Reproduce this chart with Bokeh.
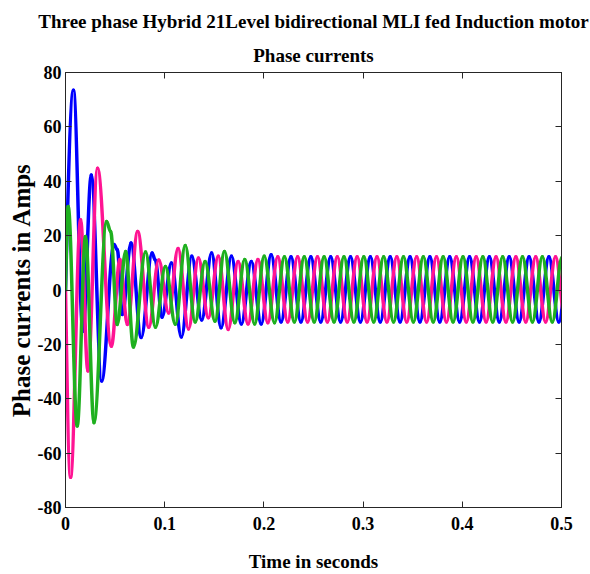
import numpy as np
from bokeh.plotting import figure
from bokeh.models import (Range1d, LinearAxis, FixedTicker, Title,
                          CustomJSTickFormatter, ColumnDataSource)
from bokeh.embed import file_html
from bokeh.resources import INLINE

# ---------------- data (extrema of each phase current) -------------
x_ticks = [0.0, 0.1, 0.2, 0.3, 0.4, 0.5]
y_ticks = [-80, -60, -40, -20, 0, 20, 40, 60, 80]

blue_t = [0.0, 0.0080, 0.0176, 0.0260, 0.0364, 0.0489, 0.0522, 0.0573, 0.0660, 0.0763,
          0.0873, 0.0905, 0.0973, 0.1068, 0.1168, 0.1273, 0.1373, 0.1473, 0.1568, 0.1673,
          0.1773, 0.1873, 0.1973, 0.2073,
          0.2173, 0.2273, 0.2373, 0.2473, 0.2573, 0.2673, 0.2773, 0.2873, 0.2973, 0.3073,
          0.3173, 0.3273, 0.3373, 0.3473, 0.3573, 0.3673, 0.3773, 0.3873, 0.3973, 0.4073,
          0.4173, 0.4273, 0.4373, 0.4473, 0.4573, 0.4673, 0.4773, 0.4873, 0.4973, 0.5073]
blue_v = [0.0, 73.5, -15.2, 42.3, -33.5, 16.7, 14.8, -9.0, 17.3, -17.5,
          13.6, 11.0, -10.0, 9.9, -17.3, 12.4, -11.0, 13.6, -13.9, 12.4,
          -12.5, 10.5, -12.5, 13.0,
          -11.8, 12.2, -11.8, 12.2, -11.8, 12.2, -11.8, 12.2, -11.8, 12.2,
          -11.8, 12.2, -11.8, 12.2, -11.8, 12.2, -11.8, 12.2, -11.8, 12.2,
          -11.8, 12.2, -11.8, 12.2, -11.8, 12.2, -11.8, 12.2, -11.8, 12.2]

pink_t = [0.0, 0.0051, 0.0152, 0.0226, 0.0323, 0.0462, 0.0549, 0.0623, 0.0728, 0.0840,
          0.0940, 0.1040, 0.1135, 0.1240, 0.1340, 0.1440, 0.1540, 0.1640, 0.1740, 0.1840,
          0.1940, 0.2040,
          0.2140, 0.2240, 0.2340, 0.2440, 0.2540, 0.2640, 0.2740, 0.2840, 0.2940, 0.3040,
          0.3140, 0.3240, 0.3340, 0.3440, 0.3540, 0.3640, 0.3740, 0.3840, 0.3940, 0.4040,
          0.4140, 0.4240, 0.4340, 0.4440, 0.4540, 0.4640, 0.4740, 0.4840, 0.4940, 0.5040]
pink_v = [0.0, -68.9, 25.8, -29.8, 44.8, -20.7, 11.2, -12.7, 21.5, -13.7,
          11.0, -8.5, 15.3, -14.3, 11.8, -10.2, 12.4, -14.5, 10.5, -12.5,
          11.2, -12.0,
          12.2, -11.8, 12.2, -11.8, 12.2, -11.8, 12.2, -11.8, 12.2, -11.8,
          12.2, -11.8, 12.2, -11.8, 12.2, -11.8, 12.2, -11.8, 12.2, -11.8,
          12.2, -11.8, 12.2, -11.8, 12.2, -11.8, 12.2, -11.8, 12.2, -11.8]

green_t = [0.0, 0.0027, 0.0118, 0.0202, 0.0287, 0.0414, 0.0455, 0.0522, 0.0606, 0.0685,
           0.0807, 0.0907, 0.1007, 0.1107, 0.1207, 0.1307, 0.1407, 0.1507, 0.1602, 0.1707,
           0.1807, 0.1907, 0.2003, 0.2107,
           0.2207, 0.2307, 0.2407, 0.2507, 0.2607, 0.2707, 0.2807, 0.2907, 0.3007, 0.3107,
           0.3207, 0.3307, 0.3407, 0.3507, 0.3607, 0.3707, 0.3807, 0.3907, 0.4007, 0.4107,
           0.4207, 0.4307, 0.4407, 0.4507, 0.4607, 0.4707, 0.4807, 0.4907, 0.5007]
green_v = [0.0, 30.7, -50.0, 19.7, -48.8, 25.2, 21.5, -12.7, 14.2, -21.0,
           14.0, -13.7, 8.6, -12.6, 16.4, -11.8, 10.5, -11.5, 14.2, -12.0,
           11.2, -12.5, 12.4, -12.0,
           12.2, -11.8, 12.2, -11.8, 12.2, -11.8, 12.2, -11.8, 12.2, -11.8,
           12.2, -11.8, 12.2, -11.8, 12.2, -11.8, 12.2, -11.8, 12.2, -11.8,
           12.2, -11.8, 12.2, -11.8, 12.2, -11.8, 12.2, -11.8, 12.2]

title_1 = "Three phase Hybrid 21Level bidirectional MLI fed Induction motor"
title_2 = "Phase currents"
x_label = "Time in seconds"
y_label = "Phase currents in Amps"

FONT = "Liberation Serif"
AX = "#262626"


def bezier_parts(ts, vs):
    t = np.asarray(ts, float)
    v = np.asarray(vs, float)
    t0, t1 = t[:-1], t[1:]
    v0, v1 = v[:-1], v[1:]
    dt = t1 - t0
    cx0 = t0 + 0.36 * dt
    cy0 = v0.copy()
    cx1 = t1 - 0.36 * dt
    cy1 = v1.copy()
    cx0[0] = t0[0] + dt[0] / 3.0
    cy0[0] = v0[0] + 0.52 * (v1[0] - v0[0])
    return ColumnDataSource(dict(x0=t0, y0=v0, x1=t1, y1=v1,
                                 cx0=cx0, cy0=cy0, cx1=cx1, cy1=cy1))


p = figure(width=590, height=574, x_range=Range1d(0, 0.5), y_range=Range1d(-80, 80),
           output_backend="svg", toolbar_location=None, title=None,
           min_border_left=65, min_border_right=29, min_border_top=72,
           min_border_bottom=10, background_fill_color="white",
           border_fill_color="white")
p.xgrid.visible = False
p.ygrid.visible = False
p.outline_line_color = AX
p.outline_line_width = 1

for col, ts, vs in (("#0000ff", blue_t, blue_v),
                    ("#ff1493", pink_t, pink_v),
                    ("#1fb01f", green_t, green_v)):
    p.bezier(x0="x0", y0="y0", x1="x1", y1="y1", cx0="cx0", cy0="cy0",
             cx1="cx1", cy1="cy1", source=bezier_parts(ts, vs),
             line_color=col, line_width=3.5, line_cap="round")


def style(ax, show):
    ax.axis_line_color = AX
    ax.major_tick_line_color = AX
    ax.major_tick_in = 6
    ax.major_tick_out = 0
    ax.minor_tick_line_color = None
    if show:
        ax.major_label_text_font = FONT
        ax.major_label_text_font_style = "bold"
        ax.major_label_text_font_size = "18px"
        ax.major_label_text_color = "black"
        ax.axis_label_text_font = FONT
        ax.axis_label_text_font_style = "bold"
        ax.axis_label_text_color = "black"
    else:
        ax.formatter = CustomJSTickFormatter(code="return '';")
        ax.major_label_text_font_size = "1px"
        ax.major_label_standoff = 0


xfmt = CustomJSTickFormatter(code="return tick == 0 ? '0' : tick.toFixed(1);")
yfmt = CustomJSTickFormatter(code="return tick.toFixed(0);")

xa = p.xaxis[0]
xa.ticker = FixedTicker(ticks=x_ticks)
xa.formatter = xfmt
style(xa, True)
xa.axis_label = x_label
xa.axis_label_text_font_size = "19px"
xa.major_label_standoff = 9
xa.axis_label_standoff = 18

ya = p.yaxis[0]
ya.ticker = FixedTicker(ticks=y_ticks)
ya.formatter = yfmt
style(ya, True)
ya.axis_label = y_label
ya.axis_label_text_font_size = "25px"
ya.major_label_standoff = 4
ya.axis_label_standoff = 0

top = LinearAxis(ticker=FixedTicker(ticks=x_ticks))
style(top, False)
p.add_layout(top, "above")
right = LinearAxis(ticker=FixedTicker(ticks=y_ticks))
style(right, False)
p.add_layout(right, "right")

p.add_layout(Title(text=title_2, align="center", text_font=FONT, text_font_style="bold",
                   text_font_size="19px", text_color="black", standoff=14), "above")
p.add_layout(Title(text=title_1, align="center", text_font=FONT, text_font_style="bold",
                   text_font_size="19px", text_color="black", standoff=8), "above")

open("out.html", "w").write(file_html(p, INLINE))
